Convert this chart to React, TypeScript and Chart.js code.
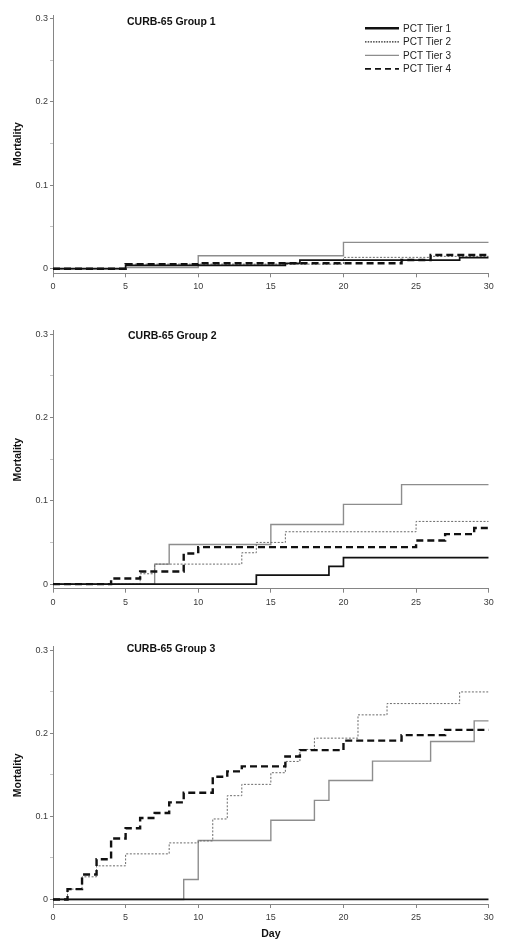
import React, { useEffect, useRef } from "react";
import { Chart, registerables } from "chart.js";

Chart.register(...registerables);

type Pt = [number, number];

// ---- Data ----
const DAY_TICKS = [0, 5, 10, 15, 20, 25, 30];
const Y_TICK_VALUES = [0, 0.05, 0.1, 0.15, 0.2, 0.25, 0.3];
const Y_LABEL_VALUES = [0, 0.1, 0.2, 0.3];
const Y_LABELS = ["0", "0.1", "0.2", "0.3"];
const TIER_NAMES = ["PCT Tier 1", "PCT Tier 2", "PCT Tier 3", "PCT Tier 4"];
const PANEL_TITLES = ["CURB-65 Group 1", "CURB-65 Group 2", "CURB-65 Group 3"];
const X_TITLE = "Day";
const Y_TITLE = "Mortality";

const G1_TIER1: Pt[] = [[0, 0], [5, 0.004], [16, 0.0064], [17, 0.0104], [28, 0.0132], [30, 0.0132]];
const G1_TIER2: Pt[] = [[0, 0], [5, 0.0055], [20, 0.0136], [26, 0.0148], [30, 0.0148]];
const G1_TIER3: Pt[] = [[0, 0], [5, 0.0015], [10, 0.0156], [20, 0.0316], [30, 0.0316]];
const G1_TIER4: Pt[] = [[0, 0], [5, 0.0053], [10, 0.0065], [24, 0.0104], [26, 0.0164], [30, 0.0164]];

const G2_TIER1: Pt[] = [[0, 0], [14, 0.0108], [19, 0.0212], [20, 0.0318], [30, 0.0318]];
const G2_TIER2: Pt[] = [[0, 0], [6, 0.0124], [7, 0.024], [13, 0.0376], [14, 0.05], [16, 0.0628], [25, 0.0752], [30, 0.0752]];
const G2_TIER3: Pt[] = [[0, 0], [7, 0.024], [8, 0.0476], [15, 0.0716], [20, 0.0956], [24, 0.1194], [30, 0.1194]];
const G2_TIER4: Pt[] = [[0, 0], [4, 0.0068], [6, 0.0152], [9, 0.0368], [10, 0.0444], [25, 0.0524], [27, 0.06], [29, 0.0674], [30, 0.0674]];

const G3_TIER1: Pt[] = [[0, 0], [30, 0]];
const G3_TIER2: Pt[] = [[0, 0], [1, 0.0124], [2, 0.0272], [3, 0.0404], [5, 0.0548], [8, 0.068], [10, 0.0704], [11, 0.0968], [12, 0.1248], [13, 0.1384], [15, 0.1524], [16, 0.166], [17, 0.1804], [18, 0.194], [21, 0.222], [23, 0.2356], [28, 0.2496], [30, 0.2496]];
const G3_TIER3: Pt[] = [[0, 0], [9, 0.024], [10, 0.0708], [15, 0.0952], [18, 0.1192], [19, 0.143], [22, 0.1664], [26, 0.19], [29, 0.2148], [30, 0.2148]];
const G3_TIER4: Pt[] = [[0, 0], [1, 0.0124], [2, 0.03], [3, 0.0484], [4, 0.0732], [5, 0.0856], [6, 0.098], [7, 0.104], [8, 0.1168], [9, 0.1284], [11, 0.1476], [12, 0.154], [13, 0.16], [16, 0.172], [17, 0.1796], [20, 0.191], [24, 0.1976], [27, 0.204], [30, 0.204]];

const PANEL_SERIES: Pt[][][] = [
  [G1_TIER1, G1_TIER2, G1_TIER3, G1_TIER4],
  [G2_TIER1, G2_TIER2, G2_TIER3, G2_TIER4],
  [G3_TIER1, G3_TIER2, G3_TIER3, G3_TIER4],
];

// ---- Styles ----
const FONT = "'Liberation Sans', Arial, Helvetica, sans-serif";
const AXIS_COLOR = "#858585";
const TICK_TEXT = "#3a3a3a";
const TIER_STYLES = [
  { color: "#111111", width: 1.7, dash: [] as number[], order: 1, legendWidth: 2.4 },
  { color: "#6a6a6a", width: 1, dash: [2, 1.6], order: 2, legendWidth: 1.3 },
  { color: "#8d8d8d", width: 1.4, dash: [] as number[], order: 3, legendWidth: 1.2 },
  { color: "#111111", width: 2.4, dash: [7, 4], order: 0, legendWidth: 1.8 },
];

const PANEL_LAYOUT = [
  { top: 0, height: 310, padTop: 15, padBottom: 11.7, xAxisH: 25, titleY: 22, titleX: 127, legend: true, xTitle: false },
  { top: 310, height: 310, padTop: 20.7, padBottom: 6.3, xAxisH: 25, titleY: 26, titleX: 128, legend: false, xTitle: false },
  { top: 620, height: 330, padTop: 26.7, padBottom: 10, xAxisH: 36, titleY: 28.7, titleX: 126.7, legend: false, xTitle: true },
];

function Panel({ index }: { index: number }) {
  const ref = useRef<HTMLCanvasElement | null>(null);
  const L = PANEL_LAYOUT[index];

  useEffect(() => {
    if (!ref.current) return;
    const series = PANEL_SERIES[index];
    const overlay = {
      id: "overlay" + index,
      afterDatasetsDraw(chart: any) {
        const ctx = chart.ctx as CanvasRenderingContext2D;
        ctx.save();
        ctx.fillStyle = "#111";
        ctx.font = `bold 10.5px ${FONT}`;
        ctx.textBaseline = "middle";
        ctx.textAlign = "left";
        ctx.fillText(PANEL_TITLES[index], L.titleX, L.titleY);
        if (L.legend) {
          const x0 = 365, x1 = 399, tx = 403, y0 = 28.3, dy = 13.5;
          TIER_NAMES.forEach((name, i) => {
            const st = TIER_STYLES[i];
            const y = y0 + i * dy;
            ctx.save();
            ctx.strokeStyle = i === 1 ? "#222" : st.color;
            ctx.lineWidth = st.legendWidth;
            ctx.setLineDash(i === 3 ? [6, 4] : i === 1 ? [1.5, 1.2] : []);
            ctx.beginPath();
            ctx.moveTo(x0, y);
            ctx.lineTo(x1, y);
            ctx.stroke();
            ctx.restore();
            ctx.fillStyle = "#222";
            ctx.font = `10px ${FONT}`;
            ctx.fillText(name, tx, y + 0.5);
          });
        }
        ctx.restore();
      },
    };

    const chart = new Chart(ref.current, {
      type: "line",
      data: {
        datasets: series.map((pts, i) => ({
          label: TIER_NAMES[i],
          data: pts.map(([x, y]) => ({ x, y })),
          stepped: true,
          borderColor: TIER_STYLES[i].color,
          borderWidth: TIER_STYLES[i].width,
          borderDash: TIER_STYLES[i].dash,
          order: TIER_STYLES[i].order,
          pointRadius: 0,
          fill: false,
          tension: 0,
        })),
      },
      options: {
        animation: false,
        responsive: false,
        devicePixelRatio: 1,
        layout: { padding: { top: L.padTop, right: 17.3, bottom: L.padBottom, left: 0 } },
        plugins: { legend: { display: false }, tooltip: { enabled: false }, title: { display: false } },
        scales: {
          x: {
            type: "linear",
            min: 0,
            max: 30,
            afterBuildTicks: (s: any) => {
              s.ticks = DAY_TICKS.map((v) => ({ value: v }));
            },
            afterFit: (s: any) => {
              s.height = L.xAxisH;
            },
            border: { color: AXIS_COLOR, width: 1 },
            grid: { drawOnChartArea: false, drawTicks: true, tickLength: 4, tickColor: AXIS_COLOR, color: AXIS_COLOR },
            ticks: {
              autoSkip: false,
              maxRotation: 0,
              padding: 4,
              color: TICK_TEXT,
              font: { family: FONT, size: 9 },
              callback: (v: any) => String(v),
            },
            title: L.xTitle
              ? { display: true, text: X_TITLE, color: "#111", font: { family: FONT, size: 10.5, weight: "bold" }, padding: { top: 0, bottom: 0 } }
              : { display: false },
          },
          y: {
            type: "linear",
            min: -0.0055,
            max: 0.304,
            afterBuildTicks: (s: any) => {
              s.ticks = Y_TICK_VALUES.map((v) => ({ value: v }));
            },
            afterFit: (s: any) => {
              s.width = 53;
            },
            border: { color: AXIS_COLOR, width: 1 },
            grid: {
              drawOnChartArea: false,
              drawTicks: true,
              tickLength: 3,
              color: AXIS_COLOR,
              tickColor: (c: any) => {
                const v = c.tick ? c.tick.value : 0;
                return Y_LABEL_VALUES.some((m) => Math.abs(m - v) < 1e-6) ? AXIS_COLOR : "#c4c4c4";
              },
            },
            ticks: {
              autoSkip: false,
              padding: 2,
              color: TICK_TEXT,
              font: { family: FONT, size: 9 },
              callback: (v: any) => {
                const k = Y_LABEL_VALUES.findIndex((m) => Math.abs(m - Number(v)) < 1e-6);
                return k >= 0 ? Y_LABELS[k] : "";
              },
            },
            title: {
              display: true,
              text: Y_TITLE,
              color: "#111",
              font: { family: FONT, size: 10.5, weight: "bold" },
              padding: { top: 12, bottom: 0 },
            },
          },
        },
      },
      plugins: [overlay],
    } as any);
    return () => chart.destroy();
  }, [index]);

  return (
    <canvas
      ref={ref}
      width={506}
      height={L.height}
      style={{ position: "absolute", left: 0, top: L.top, width: 506, height: L.height, display: "block" }}
    />
  );
}

export default function App() {
  return (
    <div style={{ position: "absolute", left: 0, top: 0, width: 506, height: 950, background: "#fff" }}>
      <Panel index={0} />
      <Panel index={1} />
      <Panel index={2} />
    </div>
  );
}
